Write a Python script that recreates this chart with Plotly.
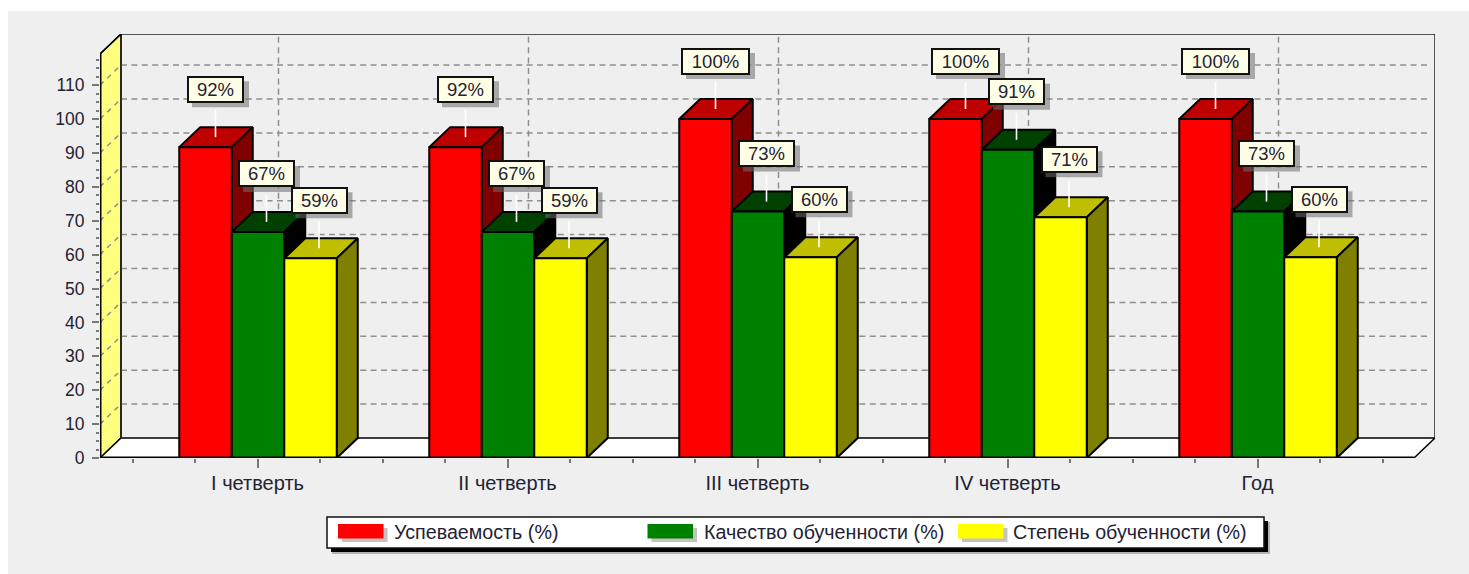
import plotly.graph_objects as go

categories = ["I четверть", "II четверть", "III четверть", "IV четверть", "Год"]
series_names = ["Успеваемость (%)", "Качество обученности (%)", "Степень обученности (%)"]
uspevaemost = [91.7, 91.7, 100, 100, 100]
kachestvo = [66.7, 66.7, 72.7, 90.9, 72.7]
stepen = [58.9, 58.9, 59.2, 71, 59.2]
label_usp = ["92%", "92%", "100%", "100%", "100%"]
label_kach = ["67%", "67%", "73%", "91%", "73%"]
label_step = ["59%", "59%", "60%", "71%", "60%"]
y_ticks = [0, 10, 20, 30, 40, 50, 60, 70, 80, 90, 100, 110]

front_colors = ["#FF0000", "#008000", "#FFFF00"]
top_colors = ["#BF0000", "#004000", "#BFBF00"]
side_colors = ["#800000", "#000000", "#808000"]

W, H = 1469, 574
PL, PR, PT, PB = 100, 1435, 34, 458   # plot area in page pixels
PX_X = 250.0    # pixels per category
PX_Y = 3.39     # pixels per value unit
DX = 21 / PX_X  # depth of the 3D box in data units
DY = 20 / PX_Y
X0 = (PL - 257.5) / PX_X
X1 = (PR - 257.5) / PX_X
YMAX = (PB - PT) / PX_Y
BW = 52.5 / PX_X
BAR_SHIFT = 0.5 / PX_X
BLACK = "#000000"
GRID = "#8f8f8f"
TXT = "#222233"
FONT = "Liberation Sans"

values = [uspevaemost, kachestvo, stepen]
labels = [label_usp, label_kach, label_step]
fig = go.Figure()


def poly(xs, ys, fill, z, lw=2):
    fig.add_trace(go.Scatter(x=xs, y=ys, mode="lines", fill="toself", fillcolor=fill,
                             line=dict(color=BLACK, width=lw), hoverinfo="skip",
                             showlegend=False, zorder=z, cliponaxis=False))


def line(xs, ys, z, color=BLACK, width=1.5, dash=None):
    fig.add_trace(go.Scatter(x=xs, y=ys, mode="lines", line=dict(color=color, width=width, dash=dash),
                             hoverinfo="skip", showlegend=False, zorder=z, cliponaxis=False))


# walls and floor
XF = X1 - DX
poly([X0, X0 + DX, X0 + DX, X0, X0], [0, DY, YMAX, YMAX - DY, 0], "#FFFF80", -5, 1.5)
poly([X0, XF, X1, X0 + DX, X0], [0, 0, DY, DY, 0], "#FFFFFF", -5, 1.5)

# dashed grid on the back wall and the left wall
gx, gy, wx, wy = [], [], [], []
for t in y_ticks[1:]:
    gx += [X0 + DX, X1 - 0.02, None]
    gy += [t + DY, t + DY, None]
    wx += [X0, X0 + DX, None]
    wy += [t, t + DY, None]
for i in range(len(categories)):
    gx += [i + DX, i + DX, None]
    gy += [DY, YMAX, None]
line(gx, gy, -4, GRID, 1.5, "6px,4.4px")
line(wx, wy, -4, GRID, 1.5, "5px,5px")

# back wall frame
line([X0 + DX, X0 + DX, X1, X1], [DY, YMAX, YMAX, DY], -3, "#222222", 1.5)
line([X0, X0 + DX], [YMAX - DY, YMAX], -3, BLACK, 1.5)

# bars
for s, vals in enumerate(values):
    tx, ty, sx, sy = [], [], [], []
    left = [i + (s - 1.5) * BW + BAR_SHIFT for i in range(len(categories))]
    for xl, v in zip(left, vals):
        xr = xl + BW
        tx += [xl, xl + DX, xr + DX, xr, xl, None]
        ty += [v, v + DY, v + DY, v, v, None]
        sx += [xr, xr, xr + DX, xr + DX, xr, None]
        sy += [0, v, v + DY, DY, 0, None]
    poly(tx, ty, top_colors[s], 2 * s + 1)
    poly(sx, sy, side_colors[s], 2 * s + 1)
    fig.add_trace(go.Bar(x=[xl + BW / 2 for xl in left], y=vals, width=BW, name=series_names[s],
                         marker=dict(color=front_colors[s], line=dict(color=BLACK, width=2)),
                         hoverinfo="skip", showlegend=False, zorder=2 * s + 2))

# heavy front axis lines
line([X0, XF], [0, 0], 20, BLACK, 3)
line([X0, X0], [0, YMAX - DY], 20, BLACK, 3)

# leader lines and value labels
lx, ly = [], []
annotations, shapes = [], []
for s, vals in enumerate(values):
    for i, v in enumerate(vals):
        c = i + (s - 1) * BW + DX / 2 - (1.5 / PX_X if s else 0)
        lx += [c, c, None]
        ly += [v + DY / 2, v + DY / 2 + 8, None]
        label = labels[s][i]
        half = 34.5 if len(label) > 3 else 28.5
        shapes.append(dict(type="rect", xref="x", yref="y", xsizemode="pixel", ysizemode="pixel",
                           xanchor=c, yanchor=v + DY / 2, x0=-half + 5, x1=half + 5, y0=30, y1=56,
                           fillcolor="rgba(110,110,110,0.55)", line=dict(width=0), layer="above"))
        annotations.append(dict(x=c, y=v + DY / 2, xref="x", yref="y", text=label, showarrow=False,
                                yshift=48, width=2 * half - 4, height=23, align="center", valign="middle",
                                bgcolor="#FFFFE8", bordercolor="#111111", borderwidth=2, borderpad=0,
                                font=dict(family=FONT, size=18.5, color=TXT)))
line(lx, ly, 21, "#FFFFFF", 1.6)


# helpers for page-fixed pieces
def fx(p):
    return (p - PL) / (PR - PL)


def fy(p):
    return (PB - p) / (PB - PT)


def page_rect(x0, y0, x1, y1, fill, layer="above", border=None, bw=0):
    shapes.append(dict(type="rect", xref="paper", yref="paper", x0=fx(x0), x1=fx(x1), y0=fy(y0), y1=fy(y1),
                       fillcolor=fill, line=dict(color=border or fill, width=bw), layer=layer))


# grey panel
page_rect(8, 11, 1469, 574, "#EFEFEF", layer="below")

# legend box
page_rect(332, 522, 1270, 554, "rgba(120,120,120,0.5)")
page_rect(331, 521, 1268, 552, "#000000")
page_rect(327, 517, 1264, 548, "#FFFFFF", border="#111111", bw=1.5)
sw_x = [338, 647.5, 958]
txt_x = [391.5, 701.5, 1010.5]
for s, name in enumerate(series_names):
    page_rect(sw_x[s] + 4, 528, sw_x[s] + 49.5, 542, "rgba(120,120,120,0.45)")
    page_rect(sw_x[s], 524, sw_x[s] + 45.5, 538.5, front_colors[s])
    annotations.append(dict(x=fx(txt_x[s]), y=fy(532), xref="paper", yref="paper", text=name, showarrow=False,
                            xanchor="left", yanchor="middle", font=dict(family=FONT, size=19.7, color=TXT)))

fig.update_layout(
    width=W, height=H, margin=dict(l=PL, r=W - PR, t=PT, b=H - PB, pad=0),
    paper_bgcolor="#FFFFFF", plot_bgcolor="rgba(0,0,0,0)",
    barmode="overlay", showlegend=False, shapes=shapes, annotations=annotations,
    font=dict(family=FONT, size=17, color=TXT),
    xaxis=dict(range=[X0, X1], tickmode="array", tickvals=list(range(len(categories))), ticktext=categories,
               showgrid=False, zeroline=False, showline=False, ticks="outside", ticklen=9, tickwidth=1.5,
               tickcolor="#777777", ticklabelstandoff=-2, tickfont=dict(family=FONT, size=20, color=TXT),
               minor=dict(tickvals=[i * 0.25 for i in range(-2, 19) if i % 4], ticks="outside", ticklen=4,
                          tickwidth=1.5, tickcolor="#777777", showgrid=False)),
    yaxis=dict(range=[0, YMAX], tickmode="array", tickvals=y_ticks, showgrid=False, zeroline=False, showline=False,
               ticks="outside", ticklen=7, tickwidth=1.5, tickcolor="#777777", ticklabelstandoff=4,
               tickfont=dict(family=FONT, size=17.5, color=TXT),
               minor=dict(tickvals=[t + k * 2.5 for t in y_ticks for k in (1, 2, 3)], ticks="outside", ticklen=3,
                          tickwidth=1.5, tickcolor="#777777", showgrid=False)),
)

fig.write_html("out.html", config={"displayModeBar": False},
               post_script="document.body.style.margin='0';document.body.style.overflow='hidden';")
